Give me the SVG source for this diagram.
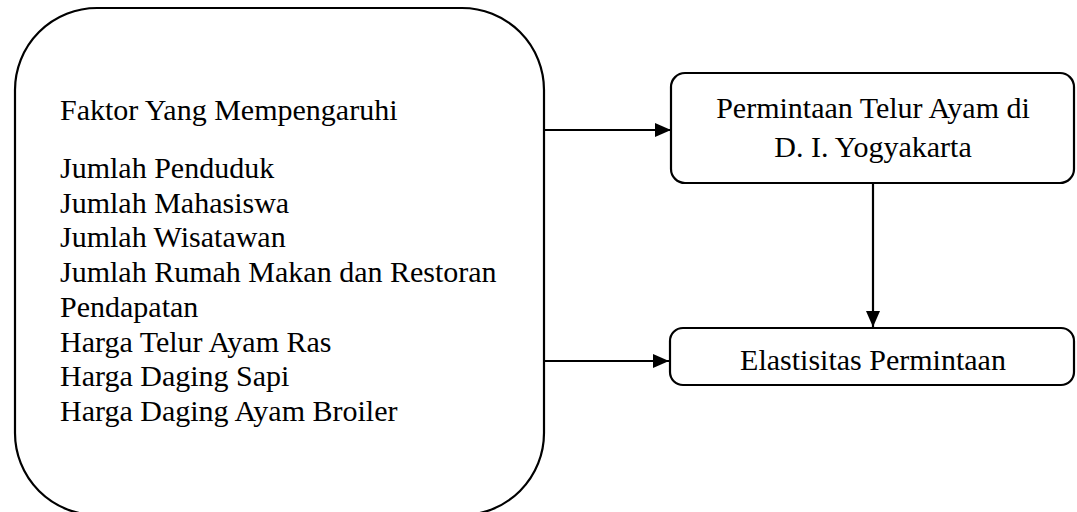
<svg xmlns="http://www.w3.org/2000/svg" width="1077" height="512" viewBox="0 0 1077 512">
<style>
.box{fill:#fff;stroke:#000;stroke-width:2.2}
.t{font-family:"Liberation Serif","Times New Roman",serif;font-size:30px;fill:#000}
.c{stroke:#000;stroke-width:2.2;fill:none}
</style>
<defs>
<marker id="ah" viewBox="0 0 16 14" refX="16" refY="7" markerWidth="16" markerHeight="14" markerUnits="userSpaceOnUse" orient="auto">
<path d="M0,0 L16,7 L0,14 Z" fill="#000"/>
</marker>
</defs>
<rect width="1077" height="512" fill="#fff"/>
<g id="connectors">
<line class="c" x1="544" y1="130" x2="671" y2="130" marker-end="url(#ah)"/>
<line class="c" x1="544" y1="361" x2="669" y2="361" marker-end="url(#ah)"/>
<line class="c" x1="873" y1="183" x2="873" y2="327" marker-end="url(#ah)"/>
</g>
<g id="faktor">
<rect class="box" x="15" y="8" width="529" height="507" rx="82" ry="82"/>
<text class="t" x="60" y="120">Faktor Yang Mempengaruhi</text>
<text class="t" x="60" y="178">Jumlah Penduduk</text>
<text class="t" x="60" y="212.7">Jumlah Mahasiswa</text>
<text class="t" x="60" y="247.4">Jumlah Wisatawan</text>
<text class="t" x="60" y="282.1">Jumlah Rumah Makan dan Restoran</text>
<text class="t" x="60" y="316.8">Pendapatan</text>
<text class="t" x="60" y="351.5">Harga Telur Ayam Ras</text>
<text class="t" x="60" y="386.2">Harga Daging Sapi</text>
<text class="t" x="60" y="420.9">Harga Daging Ayam Broiler</text>
</g>
<g id="permintaan">
<rect class="box" x="671" y="73" width="403" height="110" rx="14" ry="14"/>
<text class="t" x="873" y="117.5" text-anchor="middle">Permintaan Telur Ayam di</text>
<text class="t" x="873" y="157" text-anchor="middle">D. I. Yogyakarta</text>
</g>
<g id="elastisitas">
<rect class="box" x="670" y="328" width="404" height="57" rx="13" ry="13"/>
<text class="t" x="873" y="370" text-anchor="middle">Elastisitas Permintaan</text>
</g>
</svg>
